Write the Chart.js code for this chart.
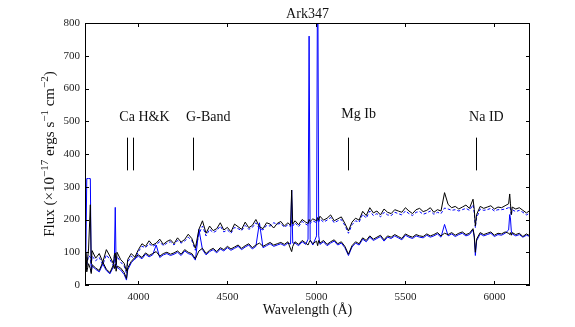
<!DOCTYPE html>
<html lang="en">
<head>
<meta charset="UTF-8">
<title>Ark347</title>
<script src="https://cdn.jsdelivr.net/npm/chart.js"></script>
<style>
  body { margin: 0; background: #fff; }
  .wrap { width: 575px; height: 327px; position: relative; }
</style>
</head>
<body>
<div class="wrap"><canvas id="spec"></canvas></div>
<script>
// wavelength grid (Angstrom), denser around emission / absorption lines
const waves = [
  3700, 3705, 3710, 3720, 3730, 3735, 3740, 3760, 3780, 3800, 3820, 3840, 3860, 3865, 3870, 3875, 3880, 3900, 3920, 3933, 3940, 3960, 3980,
  4000, 4020, 4040, 4060, 4080, 4100, 4120, 4140, 4160, 4180,
  4200, 4220, 4240, 4260, 4280, 4300, 4320, 4340, 4360, 4380,
  4400, 4420, 4440, 4460, 4480, 4500, 4520, 4540, 4560, 4580,
  4600, 4620, 4640, 4660, 4680, 4700, 4720, 4740, 4760, 4780,
  4800, 4820, 4840,
  4855, 4861, 4867, 4880, 4900, 4920, 4940, 4953, 4959, 4965, 4980, 5001, 5007, 5013,
  5020, 5040, 5060, 5080, 5100, 5120, 5140, 5160, 5180, 5200,
  5220, 5240, 5260, 5280, 5300, 5320, 5340, 5360, 5380, 5400,
  5420, 5440, 5460, 5480, 5500, 5520, 5540, 5560, 5580, 5600,
  5620, 5640, 5660, 5680, 5700, 5720, 5740, 5760, 5780, 5800,
  5820, 5840, 5860, 5880,
  5887, 5893, 5900,
  5920, 5940, 5960, 5980, 6000, 6020, 6040, 6060, 6080,
  6086, 6090, 6095,
  6100, 6120, 6140, 6160, 6180, 6200
];

// upper spectrum, observed (black)
const fluxTopObs = [
  75, 100, 55, 110, 245, 65, 105, 82, 96, 70, 108, 88, 64, 92, 98, 62, 100, 78, 66, 42, 78, 96, 85,
  108, 126, 118, 135, 122, 128, 140, 124, 133, 138,
  126, 144, 131, 139, 155, 142, 112, 170, 196, 158,
  180, 166, 172, 190, 168, 176, 162, 186, 178, 170,
  192, 175, 182, 200, 178, 172, 190, 186, 174, 188,
  194, 180, 190,
  182, 290, 186, 196, 184, 200, 192, 188, 200, 194, 202, 196, 206, 198,
  210, 198, 204, 214, 196, 202, 208, 188, 165, 192,
  204, 198, 225, 212, 236, 220, 226, 214, 232, 222,
  218, 230, 226, 222, 236, 226, 218, 230, 234, 224,
  228, 236, 222, 230, 226, 282, 246, 236, 240, 232,
  238, 244, 234, 262,
  230, 180, 215,
  240, 234, 238, 242, 232, 238, 236, 242, 248,
  278, 250, 215,
  238, 232, 236, 228, 220, 228
];

// upper spectrum, model (blue dashed)
const fluxTopFit = [
  65, 85, 60, 90, 85, 60, 88, 74, 84, 62, 92, 78, 58, 84, 88, 56, 88, 70, 58, 36, 70, 88, 78,
  102, 118, 114, 126, 118, 124, 132, 120, 128, 132,
  122, 136, 128, 134, 146, 136, 106, 156, 180, 150,
  170, 160, 166, 180, 162, 168, 158, 176, 172, 166,
  182, 170, 176, 190, 172, 168, 182, 180, 190, 186,
  188, 176, 184,
  178, 200, 180, 190, 178, 194, 186, 182, 196, 188, 196, 190, 200, 192,
  202, 192, 198, 206, 190, 196, 200, 182, 158, 184,
  196, 192, 216, 204, 226, 212, 218, 208, 222, 214,
  212, 222, 218, 214, 226, 218, 212, 222, 224, 216,
  220, 226, 216, 222, 218, 235, 232, 228, 230, 226,
  230, 234, 228, 245,
  220, 175, 205,
  232, 228, 230, 234, 226, 230, 230, 232, 236,
  240, 232, 212,
  230, 224, 228, 222, 214, 220
];

// lower spectrum, observed (black)
const fluxLowObs = [
  45, 75, 40, 65, 50, 35, 62, 52, 44, 70, 48, 38, 62, 50, 64, 42, 58, 52, 38, 20, 52, 72, 84,
  92, 84, 98, 90, 96, 102, 88, 96, 100, 94,
  98, 104, 94, 108, 100, 96, 80, 104, 112, 96,
  106, 112, 102, 114, 108, 118, 110, 116, 122, 112,
  120, 126, 114, 122, 128, 118, 124, 130, 122, 126,
  130, 124, 132,
  110, 102, 118, 132, 124, 136, 128, 122, 130, 136, 126, 134, 120, 136,
  128, 136, 124, 132, 138, 126, 132, 118, 94, 120,
  132, 126, 144, 136, 150, 140, 146, 152, 138, 150,
  146, 154, 148, 142, 156, 150, 146, 154, 150, 148,
  156, 150, 154, 160, 150, 158, 154, 160, 152, 158,
  162, 154, 158, 172,
  150, 100, 140,
  160, 154, 158, 162, 152, 158, 156, 162, 158,
  154, 160, 152,
  160, 154, 158, 148, 156, 150
];

// lower spectrum, with emission lines (blue)
const fluxLowFit = [
  80, 100, 325, 325, 325, 40, 58, 48, 40, 64, 44, 34, 56, 80, 237, 52, 54, 46, 32, 15, 46, 68, 80,
  88, 80, 94, 86, 92, 122, 84, 92, 96, 90,
  94, 100, 90, 104, 96, 92, 76, 170, 108, 92,
  102, 108, 98, 110, 104, 114, 106, 112, 118, 108,
  116, 122, 110, 118, 190, 114, 120, 126, 118, 122,
  126, 120, 128,
  125, 290, 128, 128, 120, 132, 124, 140, 760, 138, 122, 150, 1100, 150,
  124, 132, 120, 128, 134, 122, 128, 114, 90, 116,
  128, 122, 140, 132, 146, 136, 142, 148, 134, 146,
  142, 150, 144, 138, 152, 146, 142, 150, 146, 144,
  152, 146, 150, 156, 146, 185, 150, 156, 148, 154,
  158, 150, 154, 168,
  145, 90, 135,
  156, 150, 154, 158, 148, 154, 152, 158, 168,
  215, 205, 165,
  156, 150, 154, 146, 152, 148
];

// absorption feature markers
const markWaves = [3934, 3968, 4304, 5178, 5894];
const markLabels = ['Ca H&K', 'G-Band', 'Mg Ib', 'Na ID'];
const labelWaves = [3893, 4268, 5140, 5858];
const labelFlux = [500, 500, 510, 500];

const xTicks = [4000, 4500, 5000, 5500, 6000];
const yTicks = [0, 100, 200, 300, 400, 500, 600, 700, 800];

const SERIF = "'Liberation Serif', 'DejaVu Serif', serif";

function pts(arr) {
  return waves.map((w, i) => ({ x: w, y: arr[i] }));
}

// frame, inward ticks, feature marks, title and axis titles
const decor = {
  id: 'decor',
  afterDraw(chart) {
    const ctx = chart.ctx;
    const a = chart.chartArea;
    const xs = chart.scales.x, ys = chart.scales.y;
    ctx.save();
    ctx.strokeStyle = '#000';
    ctx.lineWidth = 1;
    ctx.strokeRect(Math.round(a.left) + 0.5, Math.round(a.top) + 0.5,
                   Math.round(a.right - a.left) - 1, Math.round(a.bottom - a.top) - 1);

    ctx.beginPath();
    xTicks.forEach(t => {
      const px = Math.round(xs.getPixelForValue(t)) + 0.5;
      ctx.moveTo(px, a.bottom); ctx.lineTo(px, a.bottom - 4);
      ctx.moveTo(px, a.top); ctx.lineTo(px, a.top + 4);
    });
    yTicks.forEach(t => {
      const py = Math.round(ys.getPixelForValue(t)) + 0.5;
      ctx.moveTo(a.left, py); ctx.lineTo(a.left + 4, py);
      ctx.moveTo(a.right, py); ctx.lineTo(a.right - 4, py);
    });
    ctx.stroke();

    // feature lines
    ctx.beginPath();
    markWaves.forEach(w => {
      const px = Math.round(xs.getPixelForValue(w)) + 0.5;
      ctx.moveTo(px, ys.getPixelForValue(350));
      ctx.lineTo(px, ys.getPixelForValue(450));
    });
    ctx.stroke();

    ctx.fillStyle = '#111';
    ctx.font = '14px ' + SERIF;
    ctx.textAlign = 'left';
    ctx.textBaseline = 'alphabetic';
    markLabels.forEach((s, i) => {
      ctx.fillText(s, xs.getPixelForValue(labelWaves[i]), ys.getPixelForValue(labelFlux[i]));
    });

    // title
    ctx.textAlign = 'center';
    ctx.textBaseline = 'middle';
    ctx.fillText('Ark347', (a.left + a.right) / 2, 14);

    // x title
    ctx.fillText('Wavelength (\u00C5)', (a.left + a.right) / 2, 310);

    // y title with superscripts
    const parts = [['Flux (\u00D710', 0], ['\u221217', 1], [' ergs s', 0], ['\u22121', 1],
                   [' cm', 0], ['\u22122', 1], [')', 0]];
    const big = '15px ' + SERIF, small = '11px ' + SERIF;
    let total = 0;
    parts.forEach(p => { ctx.font = p[1] ? small : big; total += ctx.measureText(p[0]).width; });
    ctx.translate(50, (a.top + a.bottom) / 2);
    ctx.rotate(-Math.PI / 2);
    ctx.textAlign = 'left';
    ctx.textBaseline = 'middle';
    let cx = -total / 2;
    parts.forEach(p => {
      ctx.font = p[1] ? small : big;
      ctx.fillText(p[0], cx, p[1] ? -5 : 0);
      cx += ctx.measureText(p[0]).width;
    });
    ctx.restore();
  }
};

new Chart(document.getElementById('spec'), {
  type: 'line',
  data: {
    datasets: [
      { data: pts(fluxTopObs), borderColor: '#000', borderWidth: 1, order: 1 },
      { data: pts(fluxLowObs), borderColor: '#000', borderWidth: 1, order: 2 },
      { data: pts(fluxLowFit), borderColor: '#0000ff', borderWidth: 1, order: 3 },
      { data: pts(fluxTopFit), borderColor: '#0000ff', borderWidth: 1, borderDash: [3, 2], order: 4 }
    ]
  },
  options: {
    responsive: true,
    maintainAspectRatio: false,
    animation: false,
    elements: { point: { radius: 0 }, line: { tension: 0, fill: false } },
    layout: { padding: { top: 23, right: 45, left: 0, bottom: 0 } },
    plugins: { legend: { display: false }, tooltip: { enabled: false } },
    scales: {
      x: {
        type: 'linear', min: 3700, max: 6200,
        grid: { display: false, drawTicks: false },
        border: { display: false },
        afterBuildTicks: s => { s.ticks = xTicks.map(v => ({ value: v })); },
        afterFit: s => { s.height = 42; },
        ticks: { padding: 6, color: '#222', font: { family: SERIF, size: 11 }, maxRotation: 0,
                 callback: v => String(v) }
      },
      y: {
        min: 0, max: 800,
        grid: { display: false, drawTicks: false },
        border: { display: false },
        afterBuildTicks: s => { s.ticks = yTicks.map(v => ({ value: v })); },
        afterFit: s => { s.width = 85; },
        ticks: { padding: 5, color: '#222', font: { family: SERIF, size: 11 },
                 callback: v => String(v) }
      }
    }
  },
  plugins: [decor]
});
</script>
</body>
</html>
